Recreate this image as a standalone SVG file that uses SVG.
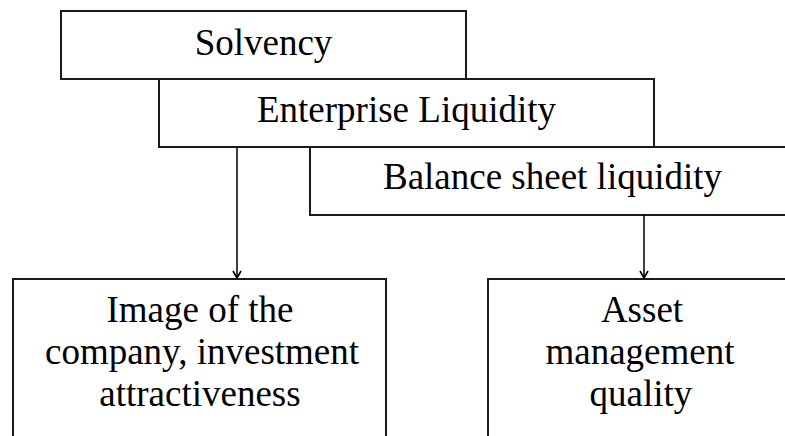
<svg xmlns="http://www.w3.org/2000/svg" width="785" height="436" viewBox="0 0 785 436">
  <style>
    .box { fill: #ffffff; stroke: #1a1a1a; stroke-width: 2; }
    .label { font-family: "Liberation Serif", "Times New Roman", serif; font-size: 37px; fill: #000000; text-anchor: middle; }
    .link { fill: none; stroke: #000000; stroke-width: 1.5; }
  </style>
  <defs>
    <!-- open V arrowhead, tip at the end of the line -->
    <marker id="arrow" viewBox="0 0 10 10" refX="9" refY="5" markerWidth="10" markerHeight="10" markerUnits="userSpaceOnUse" orient="auto">
      <path d="M2,1 L9,5 L2,9" fill="none" stroke="#000000" stroke-width="1.6"/>
    </marker>
  </defs>

  <!-- stacked liquidity levels, each drawn over the previous one -->
  <g id="solvency">
    <rect class="box" x="61" y="11" width="405" height="68"/>
    <text class="label" x="263.5" y="54.5">Solvency</text>
  </g>
  <g id="enterprise-liquidity">
    <rect class="box" x="159" y="79" width="495" height="68"/>
    <text class="label" x="406.5" y="121.5">Enterprise Liquidity</text>
  </g>
  <g id="balance-sheet-liquidity">
    <rect class="box" x="310" y="147" width="485" height="68"/>
    <text class="label" x="552.5" y="189">Balance sheet liquidity</text>
  </g>

  <!-- outcomes -->
  <g id="company-image">
    <rect class="box" x="13" y="279" width="373" height="180"/>
    <text class="label" x="200" y="322">Image of the</text>
    <text class="label" x="202" y="363.5">company, investment</text>
    <text class="label" x="200" y="405.5">attractiveness</text>
  </g>
  <g id="asset-management">
    <rect class="box" x="488" y="279" width="306" height="180"/>
    <text class="label" x="642" y="322">Asset</text>
    <text class="label" x="640" y="363.5">management</text>
    <text class="label" x="641" y="405.5">quality</text>
  </g>

  <g id="connectors">
    <line class="link" x1="237" y1="147" x2="237" y2="278" marker-end="url(#arrow)"/>
    <line class="link" x1="644" y1="215" x2="644" y2="278" marker-end="url(#arrow)"/>
  </g>
</svg>
